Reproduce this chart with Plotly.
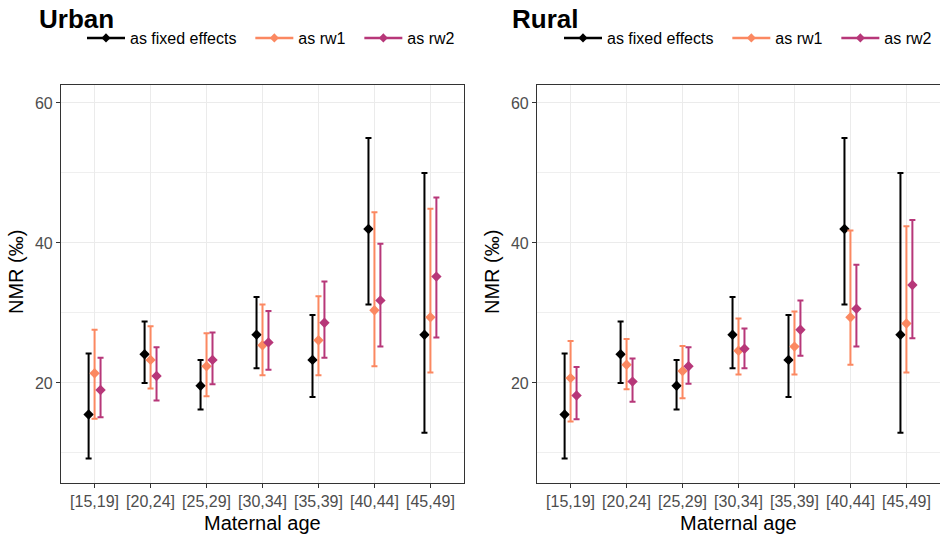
import plotly.graph_objects as go

# ---------------- data ----------------
age_groups = ["[15,19]", "[20,24]", "[25,29]", "[30,34]", "[35,39]", "[40,44]", "[45,49]"]
series_names = ["as fixed effects", "as rw1", "as rw2"]
panel_titles = ["Urban", "Rural"]

# Urban
urban_fe_mid = [15.5, 24.1, 19.6, 26.9, 23.3, 42.0, 26.9]
urban_fe_low = [9.2, 20.0, 16.2, 22.1, 18.0, 31.2, 12.9]
urban_fe_up = [24.2, 28.8, 23.3, 32.3, 29.7, 55.0, 50.0]
urban_rw1_mid = [21.4, 23.3, 22.4, 25.4, 26.1, 30.4, 29.4]
urban_rw1_low = [14.9, 19.2, 18.1, 21.1, 21.1, 22.4, 21.5]
urban_rw1_up = [27.6, 28.1, 27.1, 31.2, 32.4, 44.4, 44.9]
urban_rw2_mid = [19.0, 21.0, 23.3, 25.8, 28.6, 31.8, 35.2]
urban_rw2_low = [15.1, 17.5, 19.8, 21.9, 23.6, 25.2, 26.5]
urban_rw2_up = [23.6, 25.1, 27.2, 30.3, 34.5, 39.9, 46.5]

# Rural
rural_fe_mid = [15.5, 24.1, 19.6, 26.9, 23.3, 42.0, 26.9]
rural_fe_low = [9.2, 20.0, 16.2, 22.1, 18.0, 31.2, 12.9]
rural_fe_up = [24.2, 28.8, 23.3, 32.3, 29.7, 55.0, 50.0]
rural_rw1_mid = [20.7, 22.6, 21.7, 24.6, 25.2, 29.4, 28.5]
rural_rw1_low = [14.5, 19.1, 17.8, 21.2, 21.2, 22.6, 21.5]
rural_rw1_up = [26.0, 26.3, 25.3, 29.2, 30.2, 41.8, 42.4]
rural_rw2_mid = [18.2, 20.2, 22.4, 24.9, 27.6, 30.6, 34.0]
rural_rw2_low = [14.8, 17.3, 19.9, 22.1, 23.9, 25.2, 26.4]
rural_rw2_up = [22.3, 23.5, 25.1, 27.8, 31.8, 36.9, 43.3]

y_ticks = [20, 40, 60]

# ---------------- styles ----------------
colors = ["#000000", "#FB8861", "#B73779"]
dodge_width = 0.32
FONT = "Liberation Sans, Arial, Helvetica, sans-serif"
W, H = 940, 536
legend_pad = "\u00a0\u00a0"  # extra spacing between legend entries

panels = [
    [(urban_fe_mid, urban_fe_low, urban_fe_up),
     (urban_rw1_mid, urban_rw1_low, urban_rw1_up),
     (urban_rw2_mid, urban_rw2_low, urban_rw2_up)],
    [(rural_fe_mid, rural_fe_low, rural_fe_up),
     (rural_rw1_mid, rural_rw1_low, rural_rw1_up),
     (rural_rw2_mid, rural_rw2_low, rural_rw2_up)],
]

# panel pixel boxes (left, right) and vertical extent
panel_x = [(61, 464), (537, 940)]
panel_top, panel_bottom = 85, 483

fig = go.Figure()

n_series = len(series_names)
for p, panel in enumerate(panels):
    xa = "x" if p == 0 else "x2"
    ya = "y" if p == 0 else "y2"
    legend_name = "legend" if p == 0 else "legend2"
    for s, (mid, low, up) in enumerate(panel):
        offset = (s - (n_series - 1) / 2) * dodge_width / n_series
        xs = [i + offset for i in range(len(age_groups))]
        fig.add_trace(go.Scatter(
            x=xs, y=mid, mode="markers",
            marker=dict(symbol="diamond", size=8, color=colors[s]),
            error_y=dict(type="data", symmetric=False,
                         array=[u - m for u, m in zip(up, mid)],
                         arrayminus=[m - l for m, l in zip(mid, low)],
                         color=colors[s], thickness=2, width=3),
            showlegend=False, xaxis=xa, yaxis=ya,
            hovertext=age_groups, name=series_names[s],
        ))
        # legend key (line + point)
        fig.add_trace(go.Scatter(
            x=[None], y=[None], mode="lines+markers",
            name=series_names[s] + (legend_pad if s < n_series - 1 else ""),
            line=dict(color=colors[s], width=2.5),
            marker=dict(symbol="diamond", size=7, color=colors[s]),
            legend=legend_name, xaxis=xa, yaxis=ya,
        ))

y_dom = [1 - panel_bottom / H, 1 - panel_top / H]

axis_common_x = dict(
    range=[-0.6, len(age_groups) - 0.4],
    tickvals=list(range(len(age_groups))), ticktext=age_groups,
    showgrid=True, gridcolor="#EBEBEB", gridwidth=1.4,
    showline=True, mirror=True, linecolor="#333333", linewidth=1.2,
    ticks="outside", ticklen=4, tickcolor="#333333", tickwidth=1.2,
    tickfont=dict(size=16, color="#4D4D4D", family=FONT),
    zeroline=False, automargin=False,
)
axis_common_y = dict(
    range=[5.71, 62.57],
    tickvals=y_ticks,
    showgrid=True, gridcolor="#EBEBEB", gridwidth=1.4,
    minor=dict(dtick=10, tick0=0, showgrid=True, gridcolor="#EFEFEF", gridwidth=1, ticks=""),
    showline=True, mirror=True, linecolor="#333333", linewidth=1.2,
    ticks="outside", ticklen=4, tickcolor="#333333", tickwidth=1.2,
    tickfont=dict(size=16, color="#4D4D4D", family=FONT),
    zeroline=False, automargin=False,
)

legend_common = dict(orientation="h", xanchor="left", y=1 - 38 / H, yanchor="middle",
                     itemwidth=38,
                     font=dict(size=16, family=FONT, color="black"), bgcolor="rgba(0,0,0,0)")

fig.update_layout(
    width=W, height=H,
    margin=dict(l=0, r=0, t=0, b=0),
    paper_bgcolor="white", plot_bgcolor="white",
    font=dict(family=FONT, color="black"),
    xaxis=dict(domain=[panel_x[0][0] / W, panel_x[0][1] / W], anchor="y", **axis_common_x),
    yaxis=dict(domain=y_dom, anchor="x", **axis_common_y),
    xaxis2=dict(domain=[panel_x[1][0] / W, panel_x[1][1] / W], anchor="y2", **axis_common_x),
    yaxis2=dict(domain=y_dom, anchor="x2", **axis_common_y),
    legend=dict(x=82 / W, **legend_common),
    legend2=dict(x=559 / W, **legend_common),
)

annotations = []
title_x = [37, 510]
for p in range(2):
    left, right = panel_x[p]
    annotations.append(dict(text="<b>%s</b>" % panel_titles[p], x=title_x[p] / W, y=1 - 19.5 / H,
                            xref="paper", yref="paper", xanchor="left", yanchor="middle",
                            showarrow=False, font=dict(size=26, family=FONT, color="black")))
    annotations.append(dict(text="Maternal age", x=(left + min(right, 939)) / 2 / W, y=1 - 523 / H,
                            xref="paper", yref="paper", xanchor="center", yanchor="middle",
                            showarrow=False, font=dict(size=20, family=FONT, color="black")))
    annotations.append(dict(text="NMR (‰)", x=(left - 45) / W, y=1 - 272 / H, textangle=-90,
                            xref="paper", yref="paper", xanchor="center", yanchor="middle",
                            showarrow=False, font=dict(size=20, family=FONT, color="black")))
fig.update_layout(annotations=annotations)

fig.write_html("out.html")
